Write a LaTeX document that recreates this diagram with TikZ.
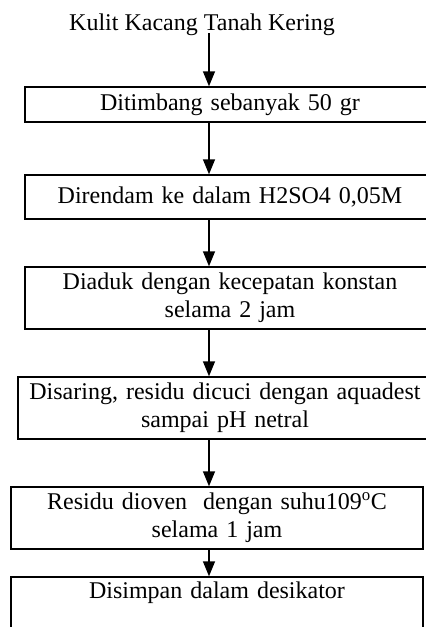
\documentclass[tikz,border=0pt]{standalone}
\usepackage{fontspec}
\setmainfont{Liberation Serif}
\usetikzlibrary{arrows.meta}
\tikzset{
  langkah/.style={draw, line width=1.4pt, align=center, text width=395pt, inner sep=0pt,
    font=\fontsize{24}{28}\selectfont},
  judul/.style={font=\fontsize{24}{28}\selectfont, inner sep=0pt},
  panah/.style={line width=1.4pt, -{Triangle[width=12pt,length=15pt]}},
}
\begin{document}
\begin{tikzpicture}[x=1pt,y=1pt,yscale=-1]
    \useasboundingbox (0,0) rectangle (426,627);
    \coordinate (jalur) at (209,0);
    % bahan awal
    \node[judul] (awal) at (202,25) {Kulit Kacang Tanah Kering};
    % tahapan
    \node[langkah, minimum width=410pt, minimum height=35pt] (timbang) at (230,104.5) {Ditimbang sebanyak 50 gr};
    \node[langkah, minimum width=410pt, minimum height=44pt] (rendam) at (230,197) {Direndam ke dalam H2SO4 0,05M};
    \node[langkah, minimum width=410pt, minimum height=62pt] (aduk) at (230,298) {Diaduk dengan kecepatan konstan\\selama 2 jam};
    \node[langkah, minimum width=414pt, minimum height=62pt] (saring) at (225,408) {Disaring, residu dicuci dengan aquadest\\sampai pH netral};
    \node[langkah, minimum width=412pt, minimum height=62pt] (oven) at (217,518) {Residu dioven\ \ dengan suhu109\textsuperscript{o}C\\selama 1 jam};
    \node[langkah, minimum width=412pt, minimum height=62pt] (simpan) at (217,608) {Disimpan dalam desikator\\\strut};
    % panah
    \draw[panah] (awal.south -| jalur) ++(0,-3) -- (timbang.north -| jalur);
    \draw[panah] (timbang.south -| jalur) -- (rendam.north -| jalur);
    \draw[panah] (rendam.south -| jalur) -- (aduk.north -| jalur);
    \draw[panah] (aduk.south -| jalur) -- (saring.north -| jalur);
    \draw[panah] (saring.south -| jalur) -- (oven.north -| jalur);
    \draw[panah] (oven.south -| jalur) -- (simpan.north -| jalur);
\end{tikzpicture}
\end{document}
